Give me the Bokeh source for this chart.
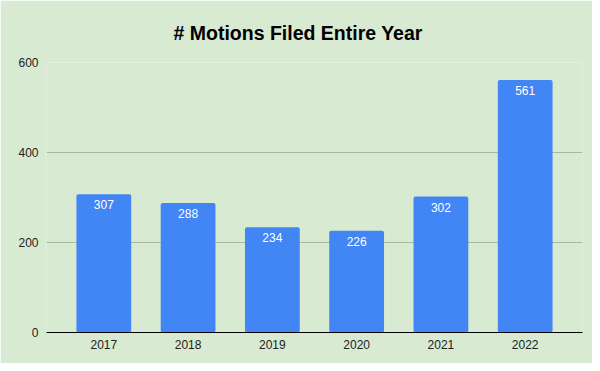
from bokeh.plotting import figure
from bokeh.models import ColumnDataSource, FactorRange, Range1d, Title
from bokeh.embed import file_html
from bokeh.resources import INLINE

years = ["2017", "2018", "2019", "2020", "2021", "2022"]
motions = [307, 288, 234, 226, 302, 561]
y_ticks = [0, 200, 400, 600]

BG = "#d9ead3"
FONT = "Liberation Sans"

src = ColumnDataSource(data=dict(year=years, motions=motions,
                                 label=[str(v) for v in motions]))

p = figure(width=592, height=363, output_backend="svg", toolbar_location=None,
           x_range=FactorRange(factors=years, range_padding=0.06,
                               range_padding_units="percent"),
           y_range=Range1d(0, 600),
           background_fill_color=BG, border_fill_color=BG,
           min_border_left=46, min_border_right=10,
           min_border_top=62, min_border_bottom=31)
p.outline_line_color = None

t = Title(text="# Motions Filed Entire Year", align="left",
          text_font=FONT, text_font_size="19.5px", text_font_style="bold",
          text_color="#000000", offset=127, standoff=38)
p.add_layout(t, "above")

p.vbar(x="year", top="motions", width=0.65, source=src,
       fill_color="#4285f4", line_color=None, border_radius=2)

p.text(x="year", y="motions", text="label", source=src,
       text_color="#ffffff", text_font_size="12px", text_align="center",
       text_baseline="top", y_offset=6, text_font={"value": FONT})

p.xgrid.grid_line_color = None
p.ygrid.grid_line_color = "#a4b99d"
p.ygrid.grid_line_width = 1
p.yaxis.ticker = y_ticks

for ax in (p.xaxis, p.yaxis):
    ax.major_tick_line_color = None
    ax.minor_tick_line_color = None
    ax.major_tick_out = 0
    ax.major_tick_in = 0
    ax.major_label_text_font = FONT
    ax.major_label_text_font_size = "12px"
    ax.major_label_text_color = "#222222"

p.yaxis.axis_line_color = None
p.yaxis.major_label_standoff = 8
p.xaxis.axis_line_color = "#000000"
p.xaxis.axis_line_width = 1
p.xaxis.major_label_standoff = 7

open("out.html", "w").write(file_html(p, INLINE))
